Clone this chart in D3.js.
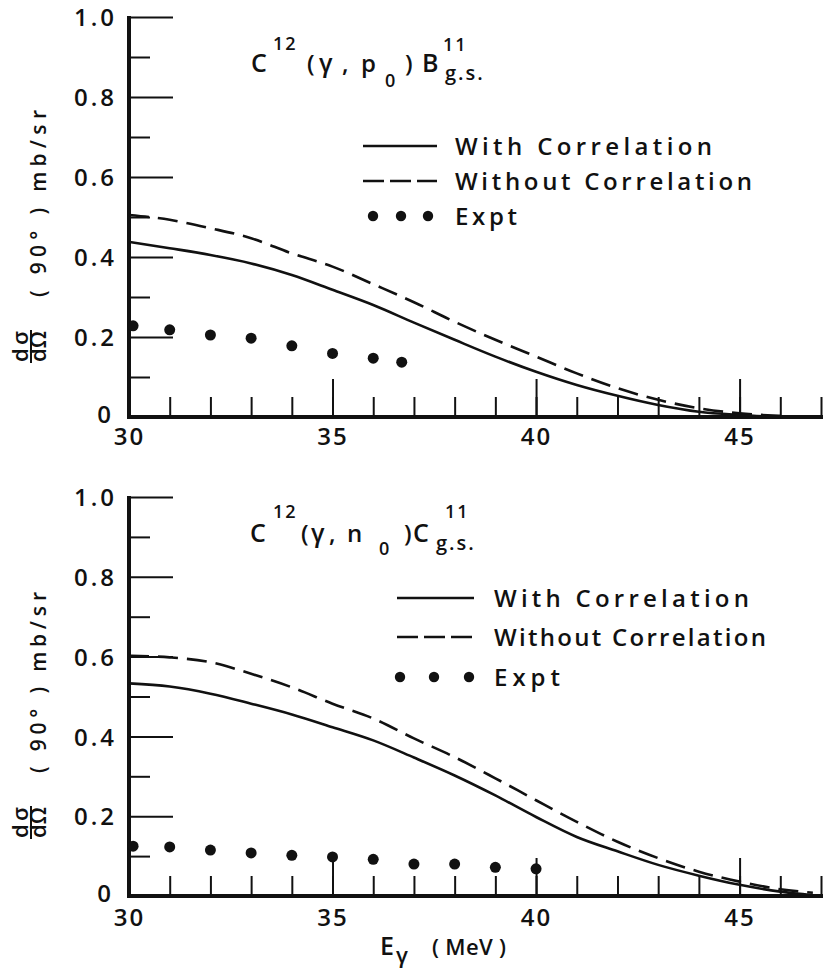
<!DOCTYPE html>
<html>
<head>
<meta charset="utf-8">
<script src="https://cdn.jsdelivr.net/npm/d3@7"></script>
<style>
  html, body { margin: 0; padding: 0; background: #fff; }
  svg { display: block; }
  text { font-family: "Open Sans", "DejaVu Sans", sans-serif; font-weight: 600; fill: #111; }
</style>
</head>
<body>
<svg id="chart" width="823" height="970"></svg>
<script>
// Photon energy grid (MeV) and axis ticks
const minorEnergyTicks = [30,31,32,33,34,35,36,37,38,39,40,41,42,43,44,45,46,47];
const majorEnergyTicks = [30,35,40,45];
const minorSigmaTicks = [0.1,0.3,0.5,0.7,0.9];
const majorSigmaTicks = [0,0.2,0.4,0.6,0.8,1.0];
const sigmaTickLabels = ["0","0.2","0.4","0.6","0.8","1.0"];

// C12(γ,p0)B11 g.s. — calculated curves
const protonEnergy = [30,31,32,33,34,35,36,37,38,39,40,41,42,43,44,45,46];
const protonWith = [0.438,0.422,0.405,0.384,0.355,0.318,0.280,0.236,0.193,0.151,0.113,0.080,0.053,0.030,0.013,0.005,0.0];
const protonWithout = [0.505,0.493,0.472,0.447,0.409,0.376,0.332,0.287,0.238,0.193,0.151,0.109,0.072,0.043,0.022,0.009,0.003];
// C12(γ,p0)B11 g.s. — measured points
const protonExptEnergy = [30.1,31,32,33,34,35,36,36.7];
const protonExpt = [0.228,0.218,0.205,0.197,0.178,0.159,0.147,0.137];

// C12(γ,n0)C11 g.s. — calculated curves
const neutronEnergy = [30,31,32,33,34,35,36,37,38,39,40,41,42,43,44,45,46,46.8];
const neutronWith = [0.533,0.525,0.507,0.482,0.455,0.423,0.390,0.347,0.302,0.252,0.198,0.148,0.112,0.078,0.051,0.028,0.011,0.002];
const neutronWithout = [0.602,0.598,0.586,0.557,0.523,0.482,0.445,0.395,0.348,0.295,0.240,0.186,0.136,0.095,0.061,0.036,0.017,0.008];
// C12(γ,n0)C11 g.s. — measured points
const neutronExptEnergy = [30.1,31,32,33,34,35,36,37,38,39,40];
const neutronExpt = [0.125,0.123,0.115,0.108,0.102,0.098,0.092,0.080,0.080,0.072,0.068];

const legendLabels = ["With Correlation","Without Correlation","Expt"];

const svg = d3.select("#chart");
svg.append("rect").attr("width",823).attr("height",970).attr("fill","#fff");

const x = d3.scaleLinear().domain([30,47]).range([129,821]);

function zip(es, vs){ return es.map((e,i)=>({e:e, v:vs[i]})); }

function drawPanel(cfg){
  const y = d3.scaleLinear().domain([0,1]).range([cfg.y0, cfg.y1]);
  const g = svg.append("g");

  // x axis: minor ticks every MeV, long ticks with labels every 5 MeV
  const xMinor = g.append("g").attr("transform",`translate(0,${cfg.y0})`)
    .call(d3.axisBottom(x).tickValues(minorEnergyTicks).tickSize(-20).tickSizeOuter(0).tickFormat(""));
  const xMajor = g.append("g").attr("transform",`translate(0,${cfg.y0})`)
    .call(d3.axisBottom(x).tickValues(majorEnergyTicks).tickSize(-38).tickSizeOuter(0).tickPadding(cfg.xLabelPad).tickFormat(d3.format("d")));
  [xMinor,xMajor].forEach(a=>{
    a.select(".domain").remove();
    a.selectAll(".tick line").attr("stroke","#111").attr("stroke-width",2);
  });
  xMajor.selectAll(".tick text").attr("font-size",24).attr("font-family",null).attr("letter-spacing","2px").attr("dy","0.71em");
  xMajor.selectAll(".tick").filter(d=>d===30).select("line").remove();

  // y axis: ticks point into the plot
  const yMinor = g.append("g").attr("transform",`translate(129,0)`)
    .call(d3.axisLeft(y).tickValues(minorSigmaTicks).tickSize(-21).tickSizeOuter(0).tickFormat(""));
  const yMajor = g.append("g").attr("transform",`translate(129,0)`)
    .call(d3.axisLeft(y).tickValues(majorSigmaTicks).tickSize(-44).tickSizeOuter(0).tickPadding(12)
      .tickFormat((d,i)=>sigmaTickLabels[i]));
  [yMinor,yMajor].forEach(a=>{
    a.select(".domain").remove();
    a.selectAll(".tick line").attr("stroke","#111").attr("stroke-width",2);
  });
  yMajor.selectAll(".tick text").attr("font-size",24).attr("font-family",null).attr("letter-spacing","3px").attr("dy","0.36em");
  yMajor.selectAll(".tick").filter(d=>d===0).select("text").attr("x",-15).attr("dy","0.22em");
  yMajor.selectAll(".tick").filter(d=>d===0).select("line").remove();

  // heavy axis lines
  g.append("line").attr("x1",x(30)).attr("x2",x(30)).attr("y1",y(1)-1).attr("y2",y(0)+2)
    .attr("stroke","#111").attr("stroke-width",4);
  g.append("line").attr("x1",x(30)-2).attr("x2",823).attr("y1",y(0)).attr("y2",y(0))
    .attr("stroke","#111").attr("stroke-width",4);

  // curves
  const line = d3.line().x(d=>x(d.e)).y(d=>y(d.v)).curve(d3.curveMonotoneX);
  g.append("path").datum(zip(cfg.energy, cfg.without)).attr("d",line)
    .attr("fill","none").attr("stroke","#111").attr("stroke-width",2.6).attr("stroke-dasharray","20,9");
  g.append("path").datum(zip(cfg.energy, cfg.with)).attr("d",line)
    .attr("fill","none").attr("stroke","#111").attr("stroke-width",2.6);
  g.selectAll("circle.expt").data(zip(cfg.exptEnergy, cfg.expt)).join("circle")
    .attr("class","expt").attr("cx",d=>x(d.e)).attr("cy",d=>y(d.v)).attr("r",5.5).attr("fill","#111");

  // reaction title
  cfg.title.forEach(p=>{
    g.append("text").attr("x",p.x).attr("y",p.y).attr("font-size",p.s).attr("letter-spacing",p.ls||"0px").text(p.t);
  });

  // legend
  const L = cfg.legend;
  g.append("line").attr("x1",L.x1).attr("x2",L.x2).attr("y1",L.rows[0]).attr("y2",L.rows[0])
    .attr("stroke","#111").attr("stroke-width",2.6);
  g.append("line").attr("x1",L.x1).attr("x2",L.x2).attr("y1",L.rows[1]).attr("y2",L.rows[1])
    .attr("stroke","#111").attr("stroke-width",2.6).attr("stroke-dasharray","21,6");
  L.dots.forEach(dx=>g.append("circle").attr("cx",dx).attr("cy",L.rows[2]).attr("r",5.2).attr("fill","#111"));
  legendLabels.forEach((s,i)=>{
    g.append("text").attr("x",L.tx).attr("y",L.rows[i]+9).attr("font-size",24)
      .attr("textLength",L.widths[i]).attr("lengthAdjust","spacing").text(s);
  });

  // y axis title: dσ/dΩ (90°) mb/sr, reading upward
  const yl = g.append("g").attr("transform",`translate(46,${cfg.labelBase}) rotate(-90)`);
  yl.append("text").attr("x",0).attr("y",0).attr("font-size",21)
    .attr("textLength",cfg.labelLen).attr("lengthAdjust","spacing").text("( 90° ) mb/sr");
  yl.append("text").attr("x",-65).attr("y",-18).attr("font-size",22)
    .attr("textLength",31).attr("lengthAdjust","spacing").text("dσ");
  yl.append("text").attr("x",-65).attr("y",0).attr("font-size",22)
    .attr("textLength",31).attr("lengthAdjust","spacing").text("dΩ");
  yl.append("line").attr("x1",-66).attr("x2",-33).attr("y1",-15).attr("y2",-15).attr("stroke","#111").attr("stroke-width",2);
}

drawPanel({
  y0: 417, y1: 17, xLabelPad: 11,
  energy: protonEnergy, with: protonWith, without: protonWithout,
  exptEnergy: protonExptEnergy, expt: protonExpt,
  labelBase: 297, labelLen: 187,
  title: [
    {t:"C", x:251, y:72, s:25},
    {t:"12", x:273, y:50, s:18, ls:"2px"},
    {t:"(", x:307, y:72, s:24},
    {t:"γ", x:319, y:72, s:25},
    {t:",", x:342, y:72, s:24},
    {t:"p", x:361, y:72, s:24},
    {t:"0", x:385, y:87, s:18},
    {t:")", x:405, y:72, s:24},
    {t:"B", x:422, y:72, s:25},
    {t:"11", x:443, y:51, s:18, ls:"2px"},
    {t:"g.s.", x:445, y:80, s:20, ls:"2px"}
  ],
  legend: { x1:363, x2:437, rows:[146,181,216], dots:[373,401,428], tx:455, widths:[257,297,62] }
});

drawPanel({
  y0: 896, y1: 497, xLabelPad: 13,
  energy: neutronEnergy, with: neutronWith, without: neutronWithout,
  exptEnergy: neutronExptEnergy, expt: neutronExpt,
  labelBase: 773, labelLen: 181,
  title: [
    {t:"C", x:250, y:542, s:25},
    {t:"12", x:273, y:518, s:18, ls:"2px"},
    {t:"(", x:301, y:542, s:24},
    {t:"γ", x:311, y:542, s:25},
    {t:",", x:329, y:542, s:24},
    {t:"n", x:347, y:542, s:24},
    {t:"0", x:379, y:555, s:18},
    {t:")", x:404, y:542, s:24},
    {t:"C", x:413, y:542, s:25},
    {t:"11", x:445, y:518, s:18, ls:"2px"},
    {t:"g.s.", x:436, y:550, s:20, ls:"2px"}
  ],
  legend: { x1:397, x2:474, rows:[598,637,677], dots:[400,434,469], tx:494, widths:[255,272,66] }
});

// energy axis title
svg.append("text").attr("x",380).attr("y",955).attr("font-size",25).text("E");
svg.append("text").attr("x",396).attr("y",963).attr("font-size",22).text("γ");
svg.append("text").attr("x",432).attr("y",955).attr("font-size",22).attr("textLength",74).attr("lengthAdjust","spacing").text("( MeV )");
</script>
</body>
</html>
